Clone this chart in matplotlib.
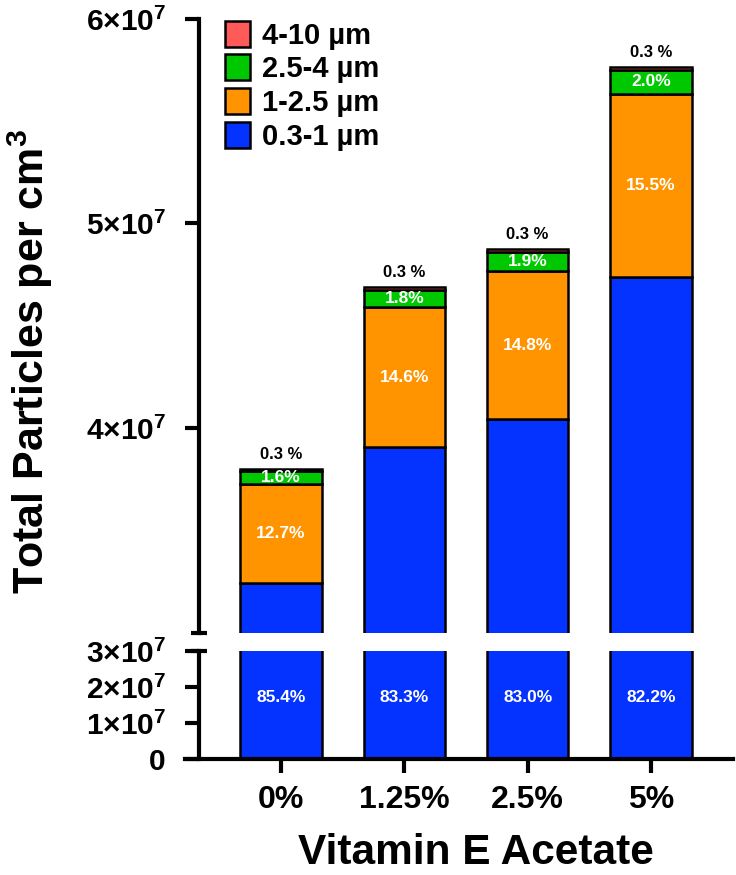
import matplotlib
matplotlib.use("Agg")
import matplotlib.pyplot as plt
import numpy as np

plt.rcParams['font.family'] = ['Liberation Sans', 'DejaVu Sans']
plt.rcParams['font.weight'] = 'bold'
plt.rcParams['mathtext.fontset'] = 'custom'
plt.rcParams['mathtext.rm'] = 'Liberation Sans:bold'
plt.rcParams['mathtext.bf'] = 'Liberation Sans:bold'

# === DATA ===
categories = ["0%", "1.25%", "2.5%", "5%"]
size_bins = ["0.3-1 µm", "1-2.5 µm", "2.5-4 µm", "4-10 µm"]

# particles per cm3
fine = [3.245e7, 3.907e7, 4.045e7, 4.740e7]      # 0.3-1 um
mid = [0.483e7, 0.685e7, 0.721e7, 0.894e7]       # 1-2.5 um
coarse = [0.061e7, 0.084e7, 0.093e7, 0.115e7]    # 2.5-4 um
large = [0.011e7, 0.014e7, 0.015e7, 0.017e7]     # 4-10 um

pct_fine = [85.4, 83.3, 83.0, 82.2]
pct_mid = [12.7, 14.6, 14.8, 15.5]
pct_coarse = [1.6, 1.8, 1.9, 2.0]
pct_large = [0.3, 0.3, 0.3, 0.3]

colors = ['#0433FF', '#FF9300', '#00C800', '#FF5A5A']

top_ticks = [4e7, 5e7, 6e7]
top_labels = ['4×10$^{7}$', '5×10$^{7}$', '6×10$^{7}$']
bot_ticks = [0, 1e7, 2e7, 3e7]
bot_labels = ['0', '1×10$^{7}$', '2×10$^{7}$', '3×10$^{7}$']

# === FIGURE ===
W, H = 736, 875
fig = plt.figure(figsize=(W / 100, H / 100), dpi=100)
ax_top = fig.add_axes([185 / W, 1 - 633 / H, 548 / W, (633 - 18.7) / H])
ax_bot = fig.add_axes([185 / W, 1 - 759 / H, 548 / W, (759 - 651) / H])

x = np.arange(len(categories))
width = 0.66
spine_x = -0.665
series = [fine, mid, coarse, large]

handles = []
for ax in (ax_top, ax_bot):
    bottom = np.zeros(len(categories))
    for vals, col, lab in zip(series, colors, size_bins):
        b = ax.bar(x, vals, width, bottom=bottom, color=col, edgecolor='black',
                   linewidth=1.8, label=lab)
        if ax is ax_top:
            handles.append(b)
        bottom += np.array(vals)

for ax in (ax_top, ax_bot):
    ax.set_xlim(-0.779, 3.665)
    ax.spines['right'].set_visible(False)
    ax.spines['top'].set_visible(False)
    ax.spines['left'].set_position(('data', spine_x))
    ax.spines['left'].set_linewidth(3)
    ax.spines['bottom'].set_linewidth(3)
    ax.tick_params(axis='y', direction='out', length=10, width=3, labelsize=21.5, pad=14)
    ax.tick_params(axis='x', direction='out', length=10, width=3, labelsize=23, pad=9)

ax_top.set_ylim(3e7, 6e7)
ax_top.set_yticks(top_ticks)
ax_top.set_yticklabels(top_labels)
ax_top.spines['bottom'].set_visible(False)
ax_top.set_xticks([])

ax_bot.set_ylim(0, 3e7)
ax_bot.set_yticks(bot_ticks)
ax_bot.set_yticklabels(bot_labels)
ax_bot.set_xticks(x)
ax_bot.set_xticklabels(categories)

# break caps on the y axis
d = 0.065
ax_top.plot([spine_x - d, spine_x + d], [3e7, 3e7], color='black', lw=3,
            clip_on=False, solid_capstyle='butt')
ax_bot.plot([spine_x - d, spine_x + d], [3e7, 3e7], color='black', lw=3,
            clip_on=False, solid_capstyle='butt')

# percentage labels
for i in range(len(categories)):
    ax_bot.text(x[i], 1.7e7, f"{pct_fine[i]:.1f}%", ha='center', va='center',
                color='white', fontsize=12.5, fontweight='bold')
    y_mid = fine[i] + mid[i] / 2
    ax_top.text(x[i], y_mid, f"{pct_mid[i]:.1f}%", ha='center', va='center',
                color='white', fontsize=12.5, fontweight='bold')
    y_coarse = fine[i] + mid[i] + coarse[i] / 2
    ax_top.text(x[i], y_coarse, f"{pct_coarse[i]:.1f}%", ha='center', va='center',
                color='white', fontsize=12.5, fontweight='bold')
    total = fine[i] + mid[i] + coarse[i] + large[i]
    ax_top.annotate(f"{pct_large[i]:.1f} %", (x[i], total), xytext=(0, 5),
                    textcoords='offset points', ha='center', va='bottom',
                    color='black', fontsize=12, fontweight='bold')

leg = ax_top.legend(handles[::-1], size_bins[::-1], loc='upper left',
                    bbox_to_anchor=(0.073, 0.997), frameon=False, fontsize=21,
                    handlelength=0.86, handleheight=1.0, handletextpad=0.4,
                    labelspacing=0.16, borderpad=0, borderaxespad=0)

fig.text(30 / W, 1 - 361 / H, "Total Particles per cm$^{3}$", rotation=90,
         ha='center', va='center', fontsize=31, fontweight='bold')
fig.text(476 / W, 1 - 853 / H, "Vitamin E Acetate", ha='center', va='center',
         fontsize=30.5, fontweight='bold')

fig.savefig("out.png", dpi=100)
